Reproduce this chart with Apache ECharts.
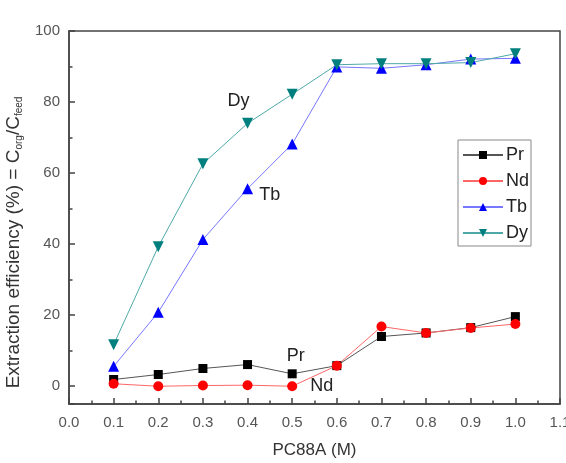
<!DOCTYPE html>
<html>
<head>
<meta charset="utf-8">
<script src="https://cdn.jsdelivr.net/npm/echarts@6/dist/echarts.min.js"></script>
<style>
  html, body { margin: 0; padding: 0; background: #fff; }
  #chart { width: 566px; height: 463px; }
</style>
</head>
<body>
<div id="chart"></div>
<script>
const xValues = [0.1, 0.2, 0.3, 0.4, 0.5, 0.6, 0.7, 0.8, 0.9, 1.0];
const prValues = [1.9, 3.3, 5.0, 6.1, 3.5, 5.8, 14.0, 15.0, 16.5, 19.6];
const ndValues = [0.7, 0.0, 0.2, 0.3, 0.0, 5.8, 16.8, 15.0, 16.4, 17.5];
const tbValues = [5.6, 20.8, 41.3, 55.6, 68.2, 89.9, 89.5, 90.5, 92.1, 92.3];
const dyValues = [11.7, 39.3, 62.6, 74.0, 82.2, 90.5, 90.8, 90.8, 91.1, 93.6];

// text labels placed inside the plot, in data units
const notes = {
  Dy: [0.38, 80.4],
  Tb: [0.45, 53.7],
  Pr: [0.508, 8.4],
  Nd: [0.566, 0]
};

const font = "Liberation Sans, Arial, sans-serif";
const chart = echarts.init(document.getElementById("chart"));

function pairs(vals) {
  return xValues.map((x, i) => [x, vals[i]]);
}

function makeSeries(name, vals, symbol, size, markerColor, lineColor) {
  return {
    name: name,
    type: "line",
    data: pairs(vals),
    symbol: symbol,
    symbolSize: size,
    showAllSymbol: true,
    lineStyle: { color: lineColor, width: 1 },
    itemStyle: { color: markerColor, borderWidth: 0 },
    emphasis: { disabled: true },
    markPoint: {
      symbol: "rect",
      symbolSize: 0,
      silent: true,
      label: {
        show: true,
        formatter: name,
        color: "#222",
        fontSize: 18,
        fontFamily: font,
        position: "inside"
      },
      data: [{ coord: notes[name] }]
    }
  };
}

const option = {
  animation: false,
  grid: {
    left: 69, top: 31, right: 6, bottom: 59,
    outerBoundsMode: "none",
    containLabel: false,
    show: true,
    borderColor: "#444",
    borderWidth: 1.5
  },
  legend: {
    right: 35,
    top: 140,
    orient: "vertical",
    itemWidth: 40,
    itemHeight: 10,
    itemGap: 8,
    padding: [6, 2, 4, 4],
    borderColor: "#888",
    borderWidth: 1,
    textStyle: { fontSize: 18, fontFamily: font, color: "#222", padding: [0, 0, 0, -2] },
    data: ["Pr", "Nd", "Tb", "Dy"]
  },
  xAxis: {
    type: "value",
    min: 0,
    max: 1.1,
    interval: 0.1,
    name: "PC88A (M)",
    nameLocation: "middle",
    nameGap: 38,
    nameTextStyle: { fontSize: 17, fontFamily: font, color: "#333" },
    axisLine: { show: true, onZero: false, lineStyle: { color: "#444", width: 1.5 } },
    axisTick: { show: true, inside: true, length: 6, lineStyle: { color: "#444", width: 1.5 } },
    minorTick: { show: true, splitNumber: 2, length: 3.5, lineStyle: { color: "#444", width: 1.5 } },
    axisLabel: {
      fontSize: 15, fontFamily: font, color: "#555", margin: 11,
      formatter: v => v.toFixed(1)
    },
    splitLine: { show: false }
  },
  yAxis: {
    type: "value",
    min: -5,
    max: 100,
    minInterval: 20,
    maxInterval: 20,
    name: "{m|Extraction efficiency (%) = C}{s|org}{m|/C}{s|feed}",
    nameLocation: "middle",
    nameGap: 43,
    nameRotate: 90,
    nameTextStyle: {
      padding: [0, 50, 0, 0],
      rich: {
        m: { fontSize: 19, fontFamily: font, color: "#333", lineHeight: 22 },
        s: { fontSize: 10, fontFamily: font, color: "#333", lineHeight: 22, padding: [10, 0, 0, 0] }
      }
    },
    axisLine: { show: true, lineStyle: { color: "#444", width: 1.5 } },
    axisTick: { show: true, inside: true, length: 6, lineStyle: { color: "#444", width: 1.5 } },
    minorTick: { show: true, splitNumber: 2, length: 3.5, lineStyle: { color: "#444", width: 1.5 } },
    axisLabel: {
      fontSize: 15, fontFamily: font, color: "#555", margin: 9,
      showMinLabel: false, showMaxLabel: true,
      formatter: v => (v % 20 === 0 ? String(v) : "")
    },
    splitLine: { show: false }
  },
  series: [
    makeSeries("Pr", prValues, "rect", 9, "#000000", "#555555"),
    makeSeries("Nd", ndValues, "circle", 10, "#ff0000", "#ff6666"),
    makeSeries("Tb", tbValues, "triangle", 11, "#0000ff", "#7777ff"),
    makeSeries("Dy", dyValues, "path://M0,0 L10,0 L5,9 Z", 11, "#007f7f", "#4fa8a8")
  ]
};

chart.setOption(option);
</script>
</body>
</html>
